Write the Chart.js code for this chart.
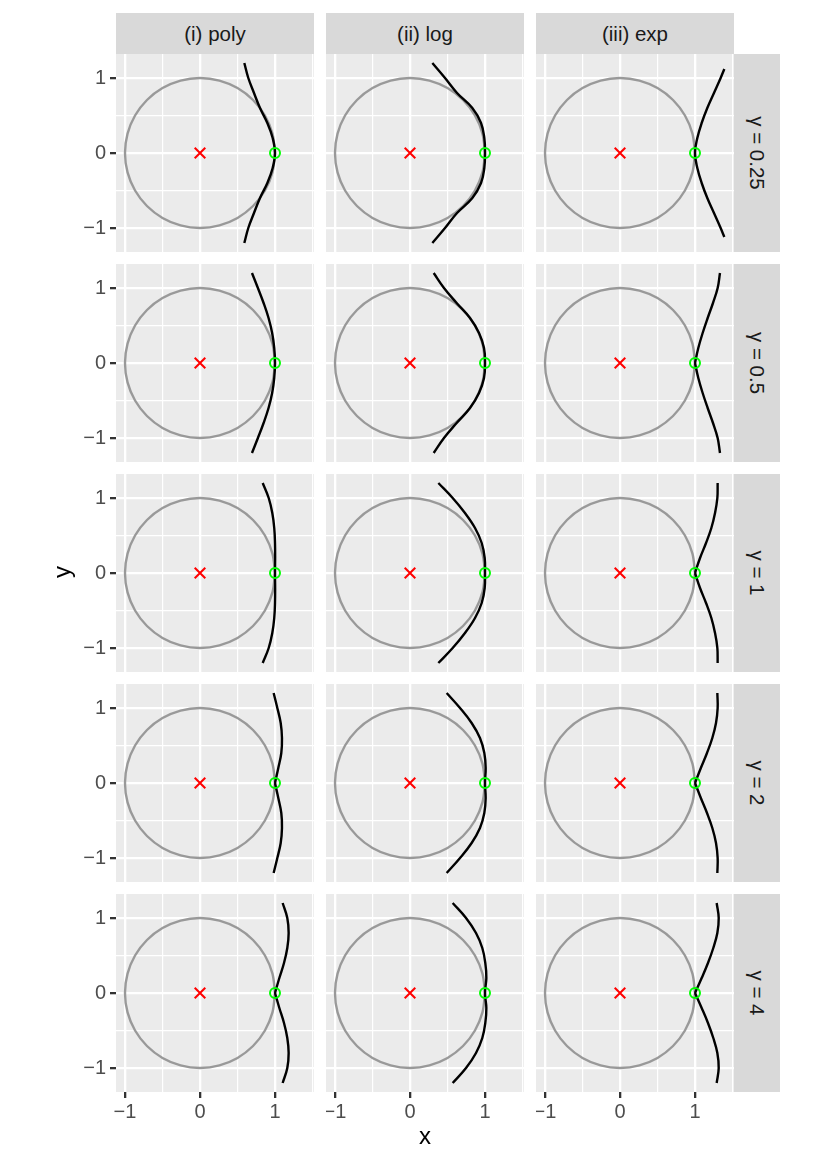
<!DOCTYPE html>
<html><head><meta charset="utf-8">
<script src="https://cdn.jsdelivr.net/npm/chart.js@4/dist/chart.umd.min.js"></script>
<style>
body{margin:0;background:#fff;width:830px;height:1163px;position:relative;overflow:hidden;font-family:"Liberation Sans",Arial,sans-serif;}
.strip{position:absolute;background:#D9D9D9;color:#1A1A1A;font-size:20.5px;display:flex;align-items:center;justify-content:center;}
.rstrip span{display:block;transform:rotate(90deg);white-space:nowrap;}
.title{position:absolute;color:#000;font-size:24px;}
canvas{position:absolute;}
</style></head><body>
<script>
// ---------- data ----------
const columns = ['(i) poly', '(ii) log', '(iii) exp'];
const gammas = ['0.25', '0.5', '1', '2', '4'];
const xTickLabels = [-1, 0, 1];
const yTickLabels = [-1, 0, 1];
const centrePoint = [{x: 0, y: 0}];
const refPoint = [{x: 1, y: 0}];
const circleX = [1, 0.966, 0.866, 0.707, 0.5, 0.259, 0, -0.259, -0.5, -0.707, -0.866, -0.966, -1, -0.966, -0.866, -0.707, -0.5, -0.259, 0, 0.259, 0.5, 0.707, 0.866, 0.966, 1];
const circleY = [0, 0.259, 0.5, 0.707, 0.866, 0.966, 1, 0.966, 0.866, 0.707, 0.5, 0.259, 0, -0.259, -0.5, -0.707, -0.866, -0.966, -1, -0.966, -0.866, -0.707, -0.5, -0.259, 0];
const curveY = [1.2, 1.0, 0.8, 0.6, 0.4, 0.2, 0, -0.2, -0.4, -0.6, -0.8, -1.0, -1.2];
const curveYexpLow = [1.12, 1.0, 0.8, 0.6, 0.4, 0.2, 0, -0.2, -0.4, -0.6, -0.8, -1.0, -1.12];

const poly025 = [0.591, 0.644, 0.720, 0.800, 0.898, 0.969, 1.000, 0.969, 0.898, 0.800, 0.720, 0.644, 0.591];
const poly05  = [0.693, 0.772, 0.848, 0.914, 0.962, 0.990, 1.000, 0.990, 0.962, 0.914, 0.848, 0.772, 0.693];
const poly1   = [0.836, 0.916, 0.964, 0.990, 1.000, 1.002, 1.000, 1.002, 1.000, 0.990, 0.964, 0.916, 0.836];
const poly2   = [0.982, 1.031, 1.076, 1.093, 1.084, 1.044, 1.000, 1.044, 1.084, 1.093, 1.076, 1.031, 0.982];
const poly4   = [1.102, 1.164, 1.182, 1.164, 1.120, 1.058, 1.000, 1.058, 1.120, 1.164, 1.182, 1.164, 1.102];

const log025 = [0.298, 0.467, 0.627, 0.831, 0.947, 0.991, 1.000, 0.991, 0.947, 0.831, 0.627, 0.467, 0.298];
const log05  = [0.316, 0.453, 0.622, 0.800, 0.920, 0.987, 1.000, 0.987, 0.920, 0.800, 0.622, 0.453, 0.316];
const log1   = [0.378, 0.569, 0.733, 0.867, 0.956, 0.996, 1.000, 0.996, 0.956, 0.867, 0.733, 0.569, 0.378];
const log2   = [0.489, 0.667, 0.822, 0.933, 0.991, 1.009, 1.000, 1.009, 0.991, 0.933, 0.822, 0.667, 0.489];
const log4   = [0.569, 0.747, 0.880, 0.964, 1.004, 1.018, 1.000, 1.018, 1.004, 0.964, 0.880, 0.747, 0.569];

const exp025 = [1.391, 1.342, 1.253, 1.164, 1.089, 1.031, 1.000, 1.031, 1.089, 1.164, 1.253, 1.342, 1.391];
const exp05  = [1.333, 1.302, 1.240, 1.169, 1.102, 1.044, 1.000, 1.044, 1.102, 1.169, 1.240, 1.302, 1.333];
const exp1   = [1.302, 1.298, 1.267, 1.218, 1.147, 1.067, 1.000, 1.067, 1.147, 1.218, 1.267, 1.298, 1.302];
const exp2   = [1.298, 1.302, 1.280, 1.231, 1.160, 1.078, 1.000, 1.078, 1.160, 1.231, 1.280, 1.302, 1.298];
const exp4   = [1.289, 1.316, 1.298, 1.244, 1.173, 1.089, 1.000, 1.089, 1.173, 1.244, 1.298, 1.316, 1.289];

const curveX = [
  [poly025, poly05, poly1, poly2, poly4],
  [log025, log05, log1, log2, log4],
  [exp025, exp05, exp1, exp2, exp4]
];
const curveYs = [
  [curveY, curveY, curveY, curveY, curveY],
  [curveY, curveY, curveY, curveY, curveY],
  [curveYexpLow, curveY, curveY, curveY, curveY]
];
// curves with a corner at (1, 0)
const cornered = [
  [false, false, false, true, true],
  [false, false, false, false, false],
  [false, true, true, true, true]
];

// ---------- layout ----------
const X_MIN = -1.12, X_MAX = 1.52, Y_MIN = -1.32, Y_MAX = 1.32;
const PW = 198, PH = 198;
const colLeft = [116, 326, 536];
const rowTop = [54, 264, 474, 684, 894];
const STRIP_TOP = 13, STRIP_H = 41, RSTRIP_W = 46;
const FONT = '"Liberation Sans", Arial, sans-serif';

function fmt(v) { return v < 0 ? '\u2212' + Math.abs(v) : String(v); }
function isMajor(ctx) { return ctx.tick && Math.abs(ctx.tick.value - Math.round(ctx.tick.value)) < 1e-9; }
function noPad(s) { s.paddingLeft = 0; s.paddingRight = 0; s.paddingTop = 0; s.paddingBottom = 0; }

const bgPlugin = {
  id: 'panelBg',
  beforeDraw(chart) {
    const a = chart.chartArea, c = chart.ctx;
    c.save(); c.fillStyle = '#EBEBEB'; c.fillRect(a.left, a.top, a.right - a.left, a.bottom - a.top); c.restore();
  }
};

function addDiv(cls, left, top, w, h, html) {
  const d = document.createElement('div');
  d.className = cls;
  Object.assign(d.style, {left: left + 'px', top: top + 'px', width: w + 'px', height: h + 'px'});
  d.innerHTML = html;
  document.body.appendChild(d);
  return d;
}

columns.forEach((name, c) => addDiv('strip', colLeft[c], STRIP_TOP, PW, STRIP_H, name));
gammas.forEach((g, r) => addDiv('strip rstrip', colLeft[2] + PW, rowTop[r], RSTRIP_W, PH, '<span>\u03B3 = ' + g + '</span>'));

function makePanel(r, c) {
  const isLeft = c === 0, isBottom = r === gammas.length - 1;
  const axisW = isLeft ? 44 : 0, axisH = isBottom ? 40 : 0;
  const cv = document.createElement('canvas');
  cv.width = PW + axisW; cv.height = PH + axisH;
  Object.assign(cv.style, {left: (colLeft[c] - axisW) + 'px', top: rowTop[r] + 'px', width: (PW + axisW) + 'px', height: (PH + axisH) + 'px'});
  document.body.appendChild(cv);

  const xs = curveX[c][r], ys = curveYs[c][r];
  const pts = xs.map((x, i) => ({x: x, y: ys[i]}));
  const mid = Math.floor(pts.length / 2);
  const pieces = cornered[c][r] ? [pts.slice(0, mid + 1), pts.slice(mid)] : [pts];
  const circle = circleX.map((x, i) => ({x: x, y: circleY[i]}));

  const datasets = [
    {data: refPoint, pointStyle: 'circle', pointRadius: 5, borderColor: '#00FF00', backgroundColor: 'rgba(0,0,0,0)', pointBorderWidth: 2, showLine: false},
    {data: centrePoint, pointStyle: 'crossRot', pointRadius: 7.5, borderColor: '#FF0000', pointBorderWidth: 2, showLine: false}
  ];
  pieces.forEach(p => datasets.push({data: p, showLine: true, borderColor: '#000000', borderWidth: 2.4, pointRadius: 0, tension: 0.4, fill: false}));
  datasets.push({data: circle, showLine: true, borderColor: '#999999', borderWidth: 2.4, pointRadius: 0, tension: 0.34, fill: false});

  new Chart(cv, {
    type: 'scatter',
    data: {datasets: datasets},
    plugins: [bgPlugin],
    options: {
      responsive: false, animation: false, devicePixelRatio: 1, events: [],
      layout: {padding: 0, autoPadding: false},
      plugins: {legend: {display: false}, tooltip: {enabled: false}},
      scales: {
        x: {
          type: 'linear', position: 'bottom', min: X_MIN, max: X_MAX,
          afterFit: s => { s.height = axisH; noPad(s); },
          border: {display: false},
          grid: {color: '#FFFFFF', lineWidth: ctx => isMajor(ctx) ? 2.3 : 1.2, drawTicks: isBottom, tickLength: 6,
                 tickColor: ctx => isMajor(ctx) ? '#333333' : 'rgba(0,0,0,0)', tickWidth: 2.3},
          ticks: {display: isBottom, stepSize: 0.5, includeBounds: false, autoSkip: false, maxRotation: 0, padding: 2,
                  color: '#4D4D4D', font: {size: 20, family: FONT},
                  callback: v => xTickLabels.includes(v) ? fmt(v) : ''}
        },
        y: {
          type: 'linear', position: 'left', min: Y_MIN, max: Y_MAX,
          afterFit: s => { s.width = axisW; noPad(s); },
          border: {display: false},
          grid: {color: '#FFFFFF', lineWidth: ctx => isMajor(ctx) ? 2.3 : 1.2, drawTicks: isLeft, tickLength: 6,
                 tickColor: ctx => isMajor(ctx) ? '#333333' : 'rgba(0,0,0,0)', tickWidth: 2.3},
          ticks: {display: isLeft, stepSize: 0.5, includeBounds: false, autoSkip: false, padding: 4,
                  color: '#4D4D4D', font: {size: 20, family: FONT},
                  callback: v => yTickLabels.includes(v) ? fmt(v) : ''}
        }
      }
    }
  });
}

for (let r = 0; r < gammas.length; r++) for (let c = 0; c < columns.length; c++) makePanel(r, c);

const xt = addDiv('title', colLeft[0], 1122, colLeft[2] + PW - colLeft[0], 30, 'x');
xt.style.textAlign = 'center';
const yt = addDiv('title', 47, 558, 30, 30, '<span style="display:block;transform:rotate(-90deg);text-align:center;">y</span>');
</script>
</body></html>
